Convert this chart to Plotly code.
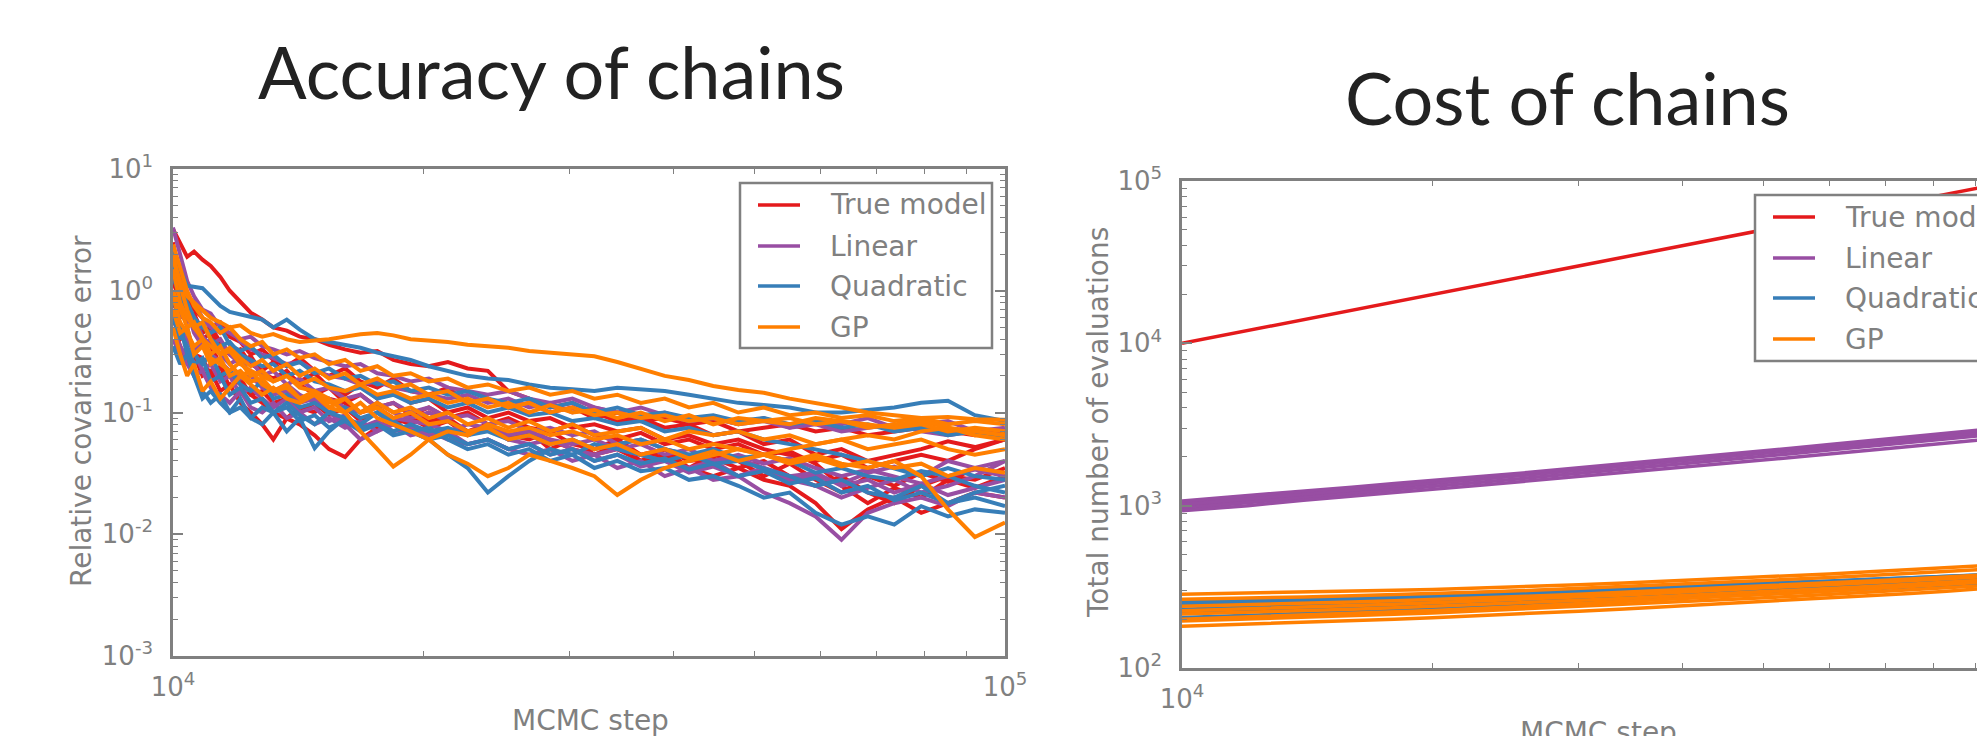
import plotly.graph_objects as go

# ---------------- data: accuracy of chains ----------------
STEPS = [10000, 10200, 10400, 10600, 10850, 11100, 11400, 11700, 12050, 12400,
         12800, 13200, 13700, 14200, 14800, 15400, 16100, 16800, 17600, 18400,
         19300, 20300, 21400, 22600, 23900, 25300, 26800, 28400, 30200, 32100,
         34200, 36500, 39000, 41700, 44600, 47800, 51300, 55100, 59200, 63600,
         68400, 73600, 79300, 85400, 92000, 100000]

ACC_TRUE = [
    [3.2, 2.5, 1.9, 2.1, 1.8, 1.6, 1.3, 1.0, 0.8, 0.66,
     0.58, 0.5, 0.47, 0.42, 0.4, 0.36, 0.33, 0.31, 0.32, 0.27,
     0.25, 0.24, 0.26, 0.23, 0.22, 0.15, 0.13, 0.11, 0.12, 0.1,
     0.085, 0.09, 0.075, 0.08, 0.065, 0.07, 0.055, 0.06, 0.045, 0.05,
     0.04, 0.045, 0.05, 0.058, 0.052, 0.06],
    [1.5, 1.0, 0.7, 0.5, 0.4, 0.35, 0.25, 0.2, 0.17, 0.14,
     0.12, 0.1, 0.09, 0.08, 0.065, 0.05, 0.043, 0.06, 0.075, 0.09,
     0.1, 0.085, 0.09, 0.07, 0.075, 0.065, 0.07, 0.06, 0.05, 0.045,
     0.05, 0.04, 0.045, 0.035, 0.03, 0.035, 0.028, 0.025, 0.018, 0.011,
     0.016, 0.02, 0.015, 0.018, 0.022, 0.02],
    [0.8, 0.6, 0.9, 0.5, 0.4, 0.45, 0.35, 0.3, 0.33, 0.25,
     0.22, 0.26, 0.2, 0.18, 0.21, 0.16, 0.14, 0.17, 0.13, 0.15,
     0.12, 0.13, 0.1, 0.11, 0.09, 0.1, 0.085, 0.09, 0.075, 0.08,
     0.07, 0.075, 0.06, 0.065, 0.055, 0.06, 0.05, 0.045, 0.04, 0.045,
     0.035, 0.04, 0.045, 0.04, 0.05, 0.06],
    [0.5, 0.35, 0.25, 0.3, 0.2, 0.22, 0.15, 0.17, 0.12, 0.1,
     0.08, 0.06, 0.09, 0.11, 0.1, 0.13, 0.12, 0.1, 0.11, 0.09,
     0.08, 0.1, 0.085, 0.07, 0.08, 0.065, 0.06, 0.07, 0.055, 0.05,
     0.06, 0.045, 0.05, 0.04, 0.042, 0.035, 0.04, 0.03, 0.025, 0.03,
     0.022, 0.018, 0.025, 0.03, 0.028, 0.035],
    [2.5, 1.2, 0.9, 0.7, 0.6, 0.5, 0.55, 0.42, 0.38, 0.3,
     0.33, 0.27, 0.24, 0.28, 0.22, 0.2, 0.23, 0.18, 0.16, 0.19,
     0.15, 0.14, 0.16, 0.12, 0.13, 0.11, 0.12, 0.1, 0.11, 0.09,
     0.1, 0.085, 0.09, 0.08, 0.085, 0.07, 0.075, 0.08, 0.07, 0.075,
     0.065, 0.07, 0.075, 0.07, 0.065, 0.07],
    [1.2, 0.8, 0.6, 0.65, 0.45, 0.5, 0.38, 0.3, 0.26, 0.29,
     0.21, 0.19, 0.22, 0.17, 0.14, 0.16, 0.12, 0.14, 0.11, 0.12,
     0.095, 0.11, 0.09, 0.1, 0.08, 0.09, 0.075, 0.07, 0.08, 0.065,
     0.06, 0.068, 0.055, 0.06, 0.05, 0.055, 0.045, 0.048, 0.038, 0.025,
     0.018, 0.024, 0.02, 0.028, 0.024, 0.03],
    [0.6, 0.4, 0.45, 0.3, 0.28, 0.2, 0.24, 0.16, 0.19, 0.14,
     0.15, 0.12, 0.13, 0.1, 0.12, 0.095, 0.11, 0.085, 0.1, 0.08,
     0.09, 0.075, 0.085, 0.065, 0.075, 0.06, 0.07, 0.05, 0.06, 0.045,
     0.055, 0.04, 0.05, 0.035, 0.045, 0.04, 0.03, 0.038, 0.028, 0.022,
     0.03, 0.025, 0.032, 0.027, 0.035, 0.03],
]

ACC_LINEAR = [
    [3.3, 2.0, 1.2, 0.9, 0.7, 0.65, 0.5, 0.45, 0.4, 0.42,
     0.35, 0.33, 0.3, 0.32, 0.28, 0.26, 0.24, 0.25, 0.21, 0.2,
     0.18, 0.19, 0.16, 0.15, 0.14, 0.15, 0.13, 0.12, 0.13, 0.11,
     0.1, 0.11, 0.095, 0.085, 0.09, 0.08, 0.085, 0.075, 0.08, 0.07,
     0.075, 0.08, 0.07, 0.065, 0.07, 0.065],
    [0.4, 0.3, 0.25, 0.2, 0.22, 0.16, 0.14, 0.12, 0.15, 0.11,
     0.1, 0.12, 0.09, 0.1, 0.08, 0.09, 0.075, 0.085, 0.07, 0.08,
     0.065, 0.07, 0.06, 0.055, 0.06, 0.05, 0.045, 0.05, 0.04, 0.045,
     0.035, 0.04, 0.03, 0.035, 0.028, 0.03, 0.022, 0.018, 0.014, 0.009,
     0.015, 0.018, 0.02, 0.017, 0.022, 0.02],
    [1.0, 0.6, 0.7, 0.45, 0.35, 0.4, 0.3, 0.25, 0.28, 0.2,
     0.18, 0.15, 0.17, 0.14, 0.12, 0.13, 0.11, 0.1, 0.12, 0.1,
     0.09, 0.1, 0.085, 0.07, 0.075, 0.065, 0.07, 0.06, 0.055, 0.06,
     0.05, 0.055, 0.045, 0.05, 0.04, 0.045, 0.038, 0.042, 0.035, 0.03,
     0.034, 0.03, 0.026, 0.03, 0.034, 0.03],
    [0.7, 0.5, 0.4, 0.32, 0.38, 0.3, 0.26, 0.22, 0.19, 0.2,
     0.16, 0.14, 0.15, 0.12, 0.13, 0.1, 0.08, 0.06, 0.07, 0.09,
     0.085, 0.08, 0.07, 0.08, 0.075, 0.06, 0.055, 0.06, 0.05, 0.045,
     0.05, 0.045, 0.04, 0.035, 0.04, 0.03, 0.035, 0.028, 0.025, 0.02,
     0.024, 0.028, 0.022, 0.025, 0.03, 0.04],
    [2.0, 1.3, 0.9, 0.8, 0.6, 0.5, 0.45, 0.5, 0.38, 0.33,
     0.3, 0.28, 0.25, 0.26, 0.22, 0.2, 0.19, 0.17, 0.18, 0.16,
     0.15, 0.14, 0.13, 0.14, 0.12, 0.13, 0.11, 0.12, 0.1, 0.11,
     0.1, 0.09, 0.1, 0.085, 0.09, 0.08, 0.09, 0.075, 0.085, 0.08,
     0.09, 0.075, 0.08, 0.085, 0.07, 0.075],
    [1.5, 0.9, 0.55, 0.6, 0.42, 0.36, 0.4, 0.3, 0.25, 0.27,
     0.2, 0.22, 0.17, 0.19, 0.15, 0.16, 0.13, 0.14, 0.11, 0.12,
     0.1, 0.11, 0.09, 0.095, 0.08, 0.085, 0.07, 0.075, 0.065, 0.07,
     0.055, 0.06, 0.05, 0.045, 0.04, 0.042, 0.035, 0.03, 0.032, 0.025,
     0.028, 0.022, 0.026, 0.021, 0.024, 0.028],
    [0.5, 0.35, 0.28, 0.32, 0.22, 0.25, 0.18, 0.2, 0.14, 0.16,
     0.13, 0.11, 0.13, 0.1, 0.11, 0.085, 0.095, 0.075, 0.085, 0.07,
     0.075, 0.065, 0.07, 0.055, 0.06, 0.05, 0.055, 0.045, 0.05, 0.04,
     0.045, 0.036, 0.04, 0.032, 0.036, 0.03, 0.034, 0.028, 0.03, 0.026,
     0.032, 0.036, 0.03, 0.04, 0.035, 0.04],
]

ACC_QUADRATIC = [
    [2.2, 1.5, 1.1, 1.08, 1.05, 0.9, 0.75, 0.67, 0.64, 0.62,
     0.58, 0.5, 0.58, 0.48, 0.4, 0.38, 0.36, 0.34, 0.31, 0.29,
     0.27, 0.24, 0.22, 0.2, 0.19, 0.185, 0.17, 0.16, 0.155, 0.15,
     0.16, 0.155, 0.15, 0.14, 0.13, 0.12, 0.115, 0.11, 0.1, 0.1,
     0.105, 0.11, 0.12, 0.125, 0.095, 0.085],
    [0.9, 0.5, 0.3, 0.2, 0.13, 0.15, 0.12, 0.1, 0.13, 0.09,
     0.08, 0.1, 0.07, 0.09, 0.051, 0.07, 0.09, 0.08, 0.1, 0.085,
     0.07, 0.075, 0.06, 0.05, 0.055, 0.045, 0.05, 0.04, 0.045, 0.035,
     0.04, 0.033, 0.035, 0.028, 0.03, 0.025, 0.02, 0.022, 0.015, 0.012,
     0.014, 0.012, 0.017, 0.014, 0.016, 0.015],
    [0.6, 0.4, 0.5, 0.3, 0.25, 0.3, 0.2, 0.22, 0.17, 0.15,
     0.18, 0.13, 0.14, 0.11, 0.12, 0.1, 0.11, 0.09, 0.1, 0.08,
     0.07, 0.06, 0.045, 0.035, 0.022, 0.03, 0.04, 0.05, 0.045, 0.055,
     0.05, 0.045, 0.04, 0.045, 0.038, 0.04, 0.035, 0.03, 0.025, 0.028,
     0.022, 0.02, 0.025, 0.018, 0.022, 0.025],
    [1.3, 0.9, 0.7, 0.5, 0.55, 0.4, 0.35, 0.38, 0.3, 0.27,
     0.24, 0.25, 0.2, 0.22, 0.18, 0.17, 0.15, 0.16, 0.13, 0.14,
     0.12, 0.13, 0.11, 0.12, 0.1, 0.11, 0.095, 0.1, 0.085, 0.09,
     0.08, 0.085, 0.07, 0.075, 0.065, 0.07, 0.06, 0.055, 0.05, 0.045,
     0.04, 0.035, 0.03, 0.035, 0.03, 0.028],
    [0.35, 0.25, 0.3, 0.2, 0.15, 0.12, 0.14, 0.1, 0.11, 0.09,
     0.11, 0.1, 0.12, 0.095, 0.08, 0.1, 0.09, 0.075, 0.08, 0.07,
     0.08, 0.07, 0.075, 0.065, 0.07, 0.06, 0.065, 0.055, 0.06, 0.05,
     0.055, 0.06, 0.05, 0.045, 0.05, 0.042, 0.045, 0.04, 0.032, 0.035,
     0.03, 0.028, 0.033, 0.03, 0.025, 0.022],
    [0.7, 0.45, 0.35, 0.25, 0.28, 0.18, 0.2, 0.14, 0.16, 0.12,
     0.13, 0.1, 0.11, 0.085, 0.095, 0.075, 0.085, 0.07, 0.08, 0.065,
     0.07, 0.06, 0.065, 0.055, 0.06, 0.05, 0.055, 0.045, 0.05, 0.04,
     0.045, 0.038, 0.042, 0.034, 0.038, 0.03, 0.033, 0.026, 0.029, 0.022,
     0.025, 0.019, 0.022, 0.018, 0.02, 0.017],
    [1.6, 1.0, 0.8, 0.6, 0.5, 0.45, 0.5, 0.36, 0.32, 0.35,
     0.28, 0.3, 0.24, 0.26, 0.21, 0.23, 0.19, 0.2, 0.17, 0.18,
     0.15, 0.16, 0.14, 0.15, 0.13, 0.12, 0.13, 0.11, 0.12, 0.1,
     0.11, 0.095, 0.1, 0.09, 0.095, 0.085, 0.09, 0.08, 0.085, 0.075,
     0.08, 0.07, 0.075, 0.065, 0.07, 0.06],
]

ACC_GP = [
    [1.8, 1.2, 0.9, 0.8, 0.7, 0.6, 0.55, 0.5, 0.52, 0.45,
     0.42, 0.44, 0.4, 0.38, 0.39, 0.4, 0.42, 0.44, 0.45, 0.43,
     0.4, 0.39, 0.38, 0.36, 0.35, 0.34, 0.32, 0.31, 0.3, 0.29,
     0.26, 0.23, 0.2, 0.185, 0.165, 0.153, 0.145, 0.13, 0.12, 0.11,
     0.1, 0.095, 0.09, 0.092, 0.088, 0.087],
    [1.5, 0.8, 0.6, 0.5, 0.4, 0.35, 0.3, 0.32, 0.25, 0.22,
     0.2, 0.18, 0.2, 0.16, 0.15, 0.13, 0.1, 0.07, 0.05, 0.036,
     0.045, 0.06, 0.07, 0.065, 0.08, 0.07, 0.075, 0.065, 0.07, 0.06,
     0.065, 0.055, 0.06, 0.05, 0.055, 0.05, 0.045, 0.05, 0.055, 0.06,
     0.065, 0.06, 0.07, 0.075, 0.065, 0.06],
    [1.0, 0.7, 0.5, 0.55, 0.4, 0.3, 0.35, 0.25, 0.2, 0.22,
     0.17, 0.15, 0.16, 0.13, 0.14, 0.11, 0.1, 0.12, 0.09, 0.08,
     0.07, 0.06, 0.045, 0.038, 0.03, 0.035, 0.045, 0.04, 0.035, 0.03,
     0.021, 0.028, 0.035, 0.04, 0.045, 0.05, 0.045, 0.04, 0.045, 0.038,
     0.035, 0.04, 0.03, 0.016, 0.0095, 0.0125],
    [2.4, 1.5, 1.0, 0.75, 0.6, 0.55, 0.45, 0.5, 0.4, 0.35,
     0.38, 0.3, 0.33, 0.28, 0.3, 0.25, 0.27, 0.22, 0.24, 0.2,
     0.21, 0.18, 0.19, 0.16, 0.17, 0.15, 0.16, 0.14, 0.15, 0.13,
     0.14, 0.12, 0.13, 0.11, 0.12, 0.1, 0.11, 0.095, 0.1, 0.09,
     0.095, 0.085, 0.09, 0.08, 0.085, 0.08],
    [0.5, 0.3, 0.2, 0.25, 0.15, 0.18, 0.13, 0.16, 0.2, 0.17,
     0.14, 0.16, 0.13, 0.12, 0.14, 0.11, 0.13, 0.1, 0.12, 0.1,
     0.11, 0.09, 0.1, 0.08, 0.09, 0.075, 0.085, 0.07, 0.08, 0.065,
     0.07, 0.075, 0.06, 0.07, 0.065, 0.07, 0.06, 0.065, 0.055, 0.06,
     0.05, 0.055, 0.06, 0.05, 0.045, 0.05],
    [0.9, 0.55, 0.45, 0.35, 0.4, 0.28, 0.25, 0.22, 0.26, 0.2,
     0.22, 0.18, 0.2, 0.17, 0.19, 0.16, 0.15, 0.17, 0.14, 0.15,
     0.13, 0.14, 0.12, 0.13, 0.11, 0.12, 0.1, 0.115, 0.1, 0.105,
     0.09, 0.1, 0.085, 0.095, 0.08, 0.09, 0.085, 0.09, 0.08, 0.085,
     0.075, 0.08, 0.085, 0.075, 0.07, 0.065],
    [2.0, 1.1, 0.7, 0.5, 0.55, 0.4, 0.3, 0.34, 0.28, 0.24,
     0.27, 0.22, 0.25, 0.2, 0.23, 0.19, 0.21, 0.17, 0.19, 0.16,
     0.17, 0.14, 0.15, 0.12, 0.13, 0.11, 0.12, 0.1, 0.11, 0.095,
     0.1, 0.09, 0.095, 0.085, 0.09, 0.08, 0.085, 0.08, 0.09, 0.085,
     0.08, 0.075, 0.08, 0.07, 0.075, 0.07],
    [0.7, 0.45, 0.5, 0.3, 0.35, 0.25, 0.28, 0.2, 0.22, 0.18,
     0.19, 0.15, 0.17, 0.13, 0.15, 0.12, 0.13, 0.1, 0.11, 0.09,
     0.1, 0.08, 0.085, 0.07, 0.075, 0.06, 0.065, 0.055, 0.06, 0.05,
     0.055, 0.045, 0.05, 0.042, 0.048, 0.04, 0.045, 0.038, 0.042, 0.036,
     0.04, 0.035, 0.038, 0.03, 0.035, 0.032],
]

# ---------------- data: cost of chains ----------------
COST_STEPS = [10000, 12000, 14000, 16000, 18000, 20000, 23000, 26000, 30000, 34000,
              38000, 43000, 48000, 54000, 60000, 67000, 75000, 83000, 91000, 100000]

COST_TRUE = [
    [10000, 12000, 14000, 16000, 18000, 20000, 23000, 26000, 30000, 34000,
     38000, 43000, 48000, 54000, 60000, 67000, 75000, 83000, 91000, 100000],
]

COST_LINEAR = [
    [1050, 1130, 1210, 1280, 1340, 1400, 1490, 1570, 1680, 1780,
     1880, 1990, 2100, 2220, 2330, 2460, 2600, 2730, 2860, 3000],
    [1000, 1090, 1160, 1230, 1300, 1360, 1450, 1530, 1640, 1740,
     1840, 1950, 2050, 2170, 2290, 2410, 2540, 2670, 2800, 2940],
    [960, 1040, 1120, 1190, 1250, 1310, 1400, 1480, 1580, 1680,
     1770, 1880, 1980, 2090, 2200, 2320, 2450, 2570, 2690, 2820],
    [1020, 1100, 1170, 1250, 1320, 1380, 1470, 1550, 1660, 1760,
     1860, 1970, 2070, 2190, 2310, 2440, 2570, 2700, 2830, 2970],
    [930, 1000, 1080, 1140, 1200, 1260, 1340, 1420, 1510, 1600,
     1690, 1790, 1880, 1980, 2080, 2190, 2300, 2420, 2540, 2660],
    [1070, 1150, 1230, 1300, 1370, 1430, 1520, 1600, 1710, 1810,
     1920, 2030, 2140, 2260, 2380, 2510, 2650, 2790, 2920, 3060],
]

COST_QUADRATIC = [
    [260, 265, 270, 275, 280, 285, 290, 296, 303, 310,
     316, 323, 330, 337, 344, 352, 360, 367, 374, 381],
    [230, 236, 241, 246, 251, 256, 262, 268, 276, 283,
     290, 297, 304, 312, 319, 327, 335, 343, 350, 358],
    [205, 211, 217, 222, 228, 233, 240, 246, 254, 261,
     268, 276, 283, 291, 298, 306, 315, 323, 331, 339],
    [245, 250, 255, 260, 265, 270, 276, 283, 290, 297,
     304, 311, 318, 325, 333, 341, 349, 357, 365, 373],
    [218, 223, 229, 234, 239, 244, 251, 257, 265, 272,
     279, 286, 294, 301, 309, 317, 325, 333, 340, 348],
    [252, 256, 261, 266, 271, 276, 282, 288, 296, 303,
     310, 318, 326, 334, 342, 350, 358, 366, 374, 383],
]

COST_GP = [
    [285, 289, 293, 297, 301, 305, 311, 318, 326, 334,
     342, 351, 360, 370, 380, 391, 403, 414, 425, 437],
    [240, 245, 250, 255, 260, 264, 271, 277, 285, 293,
     301, 309, 317, 326, 334, 344, 354, 364, 374, 384],
    [195, 200, 205, 210, 214, 218, 225, 231, 239, 246,
     253, 261, 268, 276, 284, 293, 303, 312, 321, 330],
    [181, 186, 191, 195, 200, 204, 210, 216, 224, 231,
     238, 246, 253, 261, 269, 278, 288, 297, 307, 318],
    [215, 220, 225, 230, 235, 240, 246, 253, 261, 268,
     276, 284, 292, 301, 309, 318, 328, 338, 347, 357],
    [265, 269, 274, 279, 283, 288, 294, 300, 309, 317,
     325, 334, 343, 352, 361, 371, 382, 393, 403, 414],
    [225, 231, 237, 242, 247, 252, 259, 266, 274, 282,
     290, 299, 307, 316, 325, 335, 345, 355, 365, 375],
    [200, 206, 211, 216, 221, 226, 233, 240, 248, 256,
     264, 272, 280, 289, 297, 307, 317, 327, 337, 347],
]

METHODS = ["True model", "Linear", "Quadratic", "GP"]
COLORS = ["#e41a1c", "#984ea3", "#377eb8", "#ff7f00"]

# ---------------- figure ----------------
W, H = 1977, 736
GRAY = "#808080"
LW_ACC = 4
LW_COST = 3.5
fig = go.Figure()

acc_sets = [ACC_TRUE, ACC_LINEAR, ACC_QUADRATIC, ACC_GP]
cost_sets = [COST_TRUE, COST_LINEAR, COST_QUADRATIC, COST_GP]

for name, color, chains in zip(METHODS, COLORS, acc_sets):
    for ch in chains:
        fig.add_trace(go.Scatter(
            x=STEPS, y=ch, mode="lines", name=name,
            line=dict(color=color, width=LW_ACC), showlegend=False,
            xaxis="x", yaxis="y"))

for name, color, chains in zip(METHODS, COLORS, cost_sets):
    for ch in chains:
        fig.add_trace(go.Scatter(
            x=COST_STEPS, y=ch, mode="lines", name=name,
            line=dict(color=color, width=LW_COST), showlegend=False,
            xaxis="x2", yaxis="y2"))


def px_x(p):
    return p / W


def px_y(p):
    return 1 - p / H


def decade_ticks(lo, hi):
    vals = [10 ** e for e in range(lo, hi + 1)]
    text = ["10<sup>%d</sup>" % e for e in range(lo, hi + 1)]
    minor = [m * 10 ** e for e in range(lo, hi) for m in range(2, 10)]
    return vals, text, minor


def axis_style(lo, hi, rng, domain, mirror, standoff, anchor):
    vals, text, minor = decade_ticks(lo, hi)
    return dict(
        type="log", range=rng, domain=domain, anchor=anchor, automargin=False,
        showgrid=False, zeroline=False,
        showline=True, linecolor=GRAY, linewidth=2.5, mirror=mirror,
        ticks="inside", ticklen=10, tickwidth=1.5, tickcolor=GRAY,
        tickvals=vals, ticktext=text, ticklabelstandoff=standoff,
        tickfont=dict(family="DejaVu Sans", size=26, color=GRAY),
        minor=dict(tickvals=minor, ticks="inside", ticklen=5, tickwidth=1,
                   tickcolor=GRAY, showgrid=False),
    )


# left panel: plot area x 173..1005, y 169..656
# right panel: plot area x 1182..(2014, cut by the page edge), y 181..668
fig.update_layout(
    xaxis=axis_style(4, 5, [4, 5], [px_x(173), px_x(1005)], "ticks", 6, "y"),
    yaxis=axis_style(-3, 1, [-3, 1], [px_y(656), px_y(169)], "ticks", 12, "x"),
    xaxis2=axis_style(4, 5, [4, 4 + (W - 1182) / 832], [px_x(1182), 1.0], "ticks", 6, "y2"),
    yaxis2=axis_style(2, 5, [2, 5], [px_y(668), px_y(181)], False, 12, "x2"),
)

# ---- legends (box, sample lines, labels), drawn in page pixels ----
shapes = []
annotations = []
LEG_FONT = dict(family="DejaVu Sans", size=28, color=GRAY)


def add_legend(left, top, bottom, rows):
    shapes.append(dict(type="rect", xref="paper", yref="paper", layer="above",
                       x0=px_x(left), x1=px_x(left + 252), y0=px_y(bottom), y1=px_y(top),
                       line=dict(color=GRAY, width=2.5), fillcolor="white"))
    for name, color, ry in zip(METHODS, COLORS, rows):
        shapes.append(dict(type="line", xref="paper", yref="paper", layer="above",
                           x0=px_x(left + 18), x1=px_x(left + 60), y0=px_y(ry), y1=px_y(ry),
                           line=dict(color=color, width=3.5)))
        annotations.append(dict(text=name, x=px_x(left + 88), y=px_y(ry), xanchor="left",
                                yanchor="middle", font=LEG_FONT))


add_legend(740, 183, 348, [205, 246, 286, 327])
add_legend(1755, 195, 361, [217, 258, 298, 339])

TITLE_FONT = dict(family="Lato", size=72, color="#222222")
LABEL_FONT = dict(family="DejaVu Sans", size=28, color=GRAY)
annotations += [
    dict(text="Accuracy of chains", x=px_x(551), y=px_y(71), font=TITLE_FONT),
    dict(text="Cost of chains", x=px_x(1567), y=px_y(97), font=TITLE_FONT),
    dict(text="MCMC step", x=px_x(590), y=px_y(720), font=LABEL_FONT),
    dict(text="MCMC step", x=px_x(1598), y=px_y(732), font=LABEL_FONT),
    dict(text="Relative covariance error", x=px_x(81), y=px_y(411),
         textangle=-90, font=LABEL_FONT),
    dict(text="Total number of evaluations", x=px_x(1098), y=px_y(423),
         textangle=-90, font=LABEL_FONT),
]
for a in annotations:
    a.setdefault("xanchor", "center")
    a.setdefault("yanchor", "middle")
    a.update(xref="paper", yref="paper", showarrow=False)

fig.update_layout(
    shapes=shapes, annotations=annotations,
    width=W, height=H, autosize=False,
    margin=dict(l=0, r=0, t=0, b=0),
    paper_bgcolor="white", plot_bgcolor="white",
    showlegend=False,
)

fig.write_html("out.html")
